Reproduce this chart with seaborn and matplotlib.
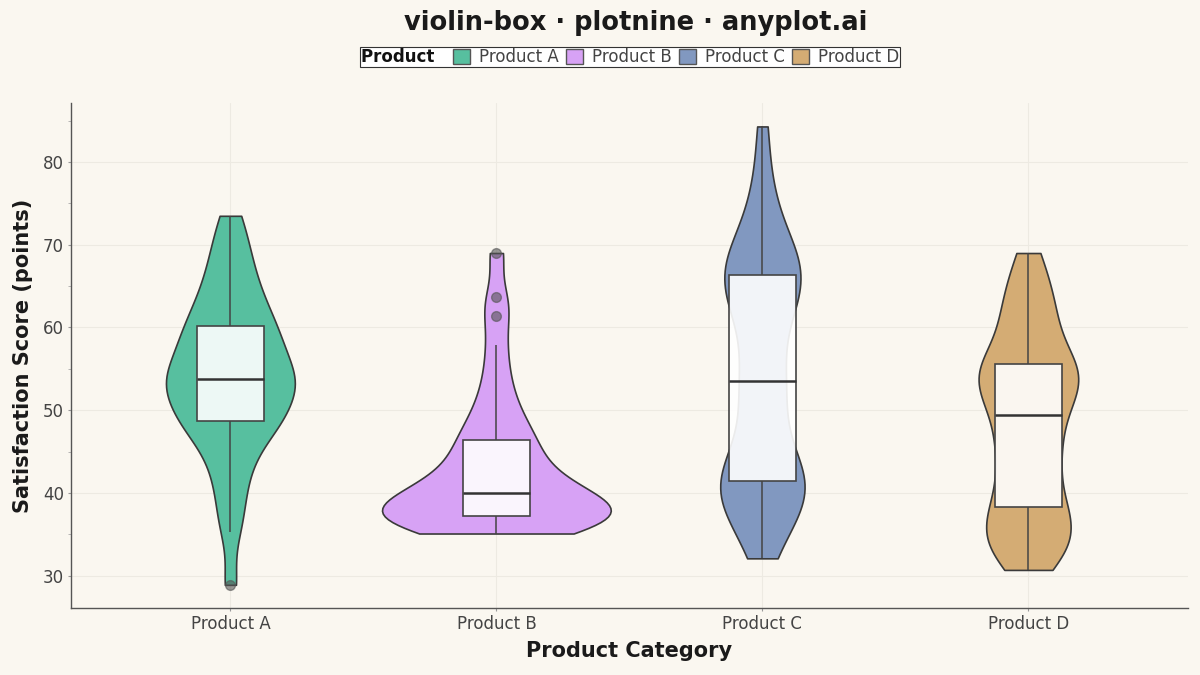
import numpy as np
import pandas as pd
import matplotlib
matplotlib.use("Agg")
import matplotlib.pyplot as plt
from matplotlib.patches import Patch
from matplotlib.ticker import MultipleLocator
import seaborn as sns

products = ["Product A", "Product B", "Product C", "Product D"]

scores_a = [28.9, 35.3, 38.0, 40.5, 42.5, 44.2, 45.6, 46.8, 47.7, 48.3,
            48.8, 49.3, 49.9, 50.6, 51.3, 52.0, 52.6, 53.1, 53.5, 53.7,
            53.9, 54.6, 55.3, 56.0, 56.7, 57.4, 58.0, 58.7, 59.4, 60.0,
            60.8, 61.6, 62.6, 63.6, 64.7, 66.0, 67.5, 69.1, 71.0, 73.5]

scores_b = [35.1, 35.3, 35.6, 35.9, 36.2, 36.4, 36.6, 36.8, 37.0, 37.1,
            37.3, 37.5, 37.7, 38.0, 38.3, 38.6, 38.9, 39.3, 39.6, 39.9,
            40.1, 40.6, 41.1, 41.7, 42.3, 43.0, 43.7, 44.5, 45.3, 46.2,
            46.9, 47.8, 49.0, 50.5, 52.3, 54.8, 57.9, 61.4, 63.7, 69.0]

scores_c = [32.1, 34.2, 35.8, 37.0, 38.0, 38.8, 39.5, 40.1, 40.6, 41.1,
            41.6, 42.2, 42.9, 43.8, 45.0, 46.6, 48.6, 50.6, 52.4, 53.3,
            53.7, 55.8, 58.2, 60.1, 61.6, 62.7, 63.6, 64.4, 65.1, 66.2,
            66.6, 67.2, 67.9, 68.7, 69.7, 71.0, 72.8, 75.2, 78.6, 84.3]

scores_d = [30.7, 31.7, 32.6, 33.4, 34.1, 34.8, 35.5, 36.3, 37.1, 37.8,
            38.5, 39.8, 41.0, 42.2, 43.4, 44.5, 45.5, 46.5, 47.6, 48.9,
            49.9, 50.7, 51.5, 52.3, 53.0, 53.7, 54.2, 54.7, 55.1, 55.4,
            56.1, 57.5, 58.7, 59.9, 61.1, 62.3, 63.6, 65.0, 66.8, 69.0]

colors = ["#57BF9F", "#D7A2F5", "#8198C0", "#D4AC74"]

df = pd.DataFrame({
    "Product": np.repeat(products, 40),
    "Score": scores_a + scores_b + scores_c + scores_d,
})

bg = "#FAF7F0"
sns.set_theme(style="white")
plt.rcParams["font.family"] = ["DejaVu Sans"]

fig = plt.figure(figsize=(12, 6.75), dpi=100, facecolor=bg)
ax = fig.add_axes([0.059, 0.0993, 0.931, 0.7477])
ax.set_facecolor(bg)

sns.violinplot(data=df, x="Product", y="Score", hue="Product", order=products,
               palette=colors, inner=None, cut=0, density_norm="area",
               common_norm=True, width=0.86, bw_adjust=0.6, linewidth=1.2,
               linecolor="#3a3a3a", saturation=1, legend=False, ax=ax)

sns.boxplot(data=df, x="Product", y="Score", order=products, width=0.25,
            color="white", saturation=1, linewidth=1.2, linecolor="#444444",
            boxprops=dict(facecolor=(1, 1, 1, 0.9), edgecolor="#444444"),
            medianprops=dict(color="#333333", linewidth=1.8),
            whiskerprops=dict(color="#444444", linewidth=1.1),
            capprops=dict(linewidth=0),
            flierprops=dict(marker="o", markerfacecolor="#555555",
                            markeredgecolor="#555555", markersize=7, alpha=0.6),
            ax=ax)

ax.set_xlim(-0.6, 3.6)
ax.set_ylim(26.1, 87.1)
ax.yaxis.set_major_locator(MultipleLocator(10))
ax.yaxis.set_minor_locator(MultipleLocator(5))
ax.grid(True, which="major", axis="both", color="#EDEAE2", linewidth=0.8)
ax.set_axisbelow(True)

for s in ["top", "right"]:
    ax.spines[s].set_visible(False)
for s in ["left", "bottom"]:
    ax.spines[s].set_color("#555555")
    ax.spines[s].set_linewidth(1.0)

ax.tick_params(axis="both", which="major", labelsize=12, labelcolor="#444444",
               color="#999999", length=2.5, width=0.8, pad=2.5, left=True, bottom=True)
ax.tick_params(axis="y", which="minor", color="#aaaaaa", length=2, width=0.6, left=True)

ax.set_xlabel("Product Category", fontsize=15, fontweight="bold", color="#1a1a1a", labelpad=6)
ax.set_ylabel("Satisfaction Score (points)", fontsize=15, fontweight="bold", color="#1a1a1a", labelpad=7)

fig.suptitle("violin-box · plotnine · anyplot.ai", fontsize=18.5, fontweight="bold",
             color="#1a1a1a", x=0.53, y=0.985)

handles = [Patch(visible=False)] + [Patch(facecolor=c, edgecolor="#555555") for c in colors]
labels = ["Product  "] + products
leg = fig.legend(handles, labels, loc="center", bbox_to_anchor=(0.525, 0.9156), ncol=5,
                 fontsize=12, frameon=True, fancybox=False, edgecolor="#333333",
                 facecolor="white", framealpha=1, handlelength=1.0, handleheight=1.0,
                 handletextpad=0.55, columnspacing=0.45, borderpad=0.05, borderaxespad=0)
leg.get_frame().set_linewidth(0.8)
texts = leg.get_texts()
texts[0].set_fontweight("bold")
texts[0].set_color("#111111")
for t in texts[1:]:
    t.set_color("#444444")

# drop the blank handle slot in front of the inline "Product" title
try:
    row0 = leg._legend_handle_box.get_children()[0].get_children()[0]
    row0.get_children()[0].width = 0
    row0.sep = 0
except Exception:
    pass

fig.savefig("out.png", dpi=100, facecolor=bg)
